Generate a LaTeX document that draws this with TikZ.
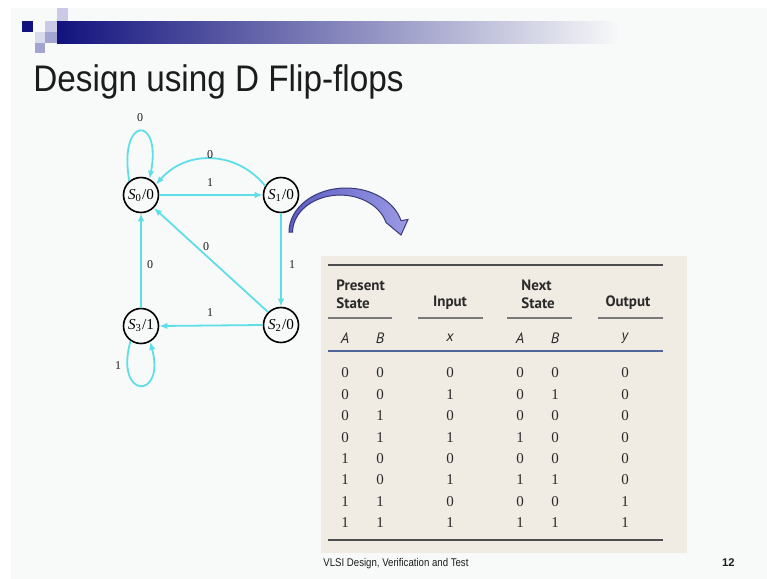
\documentclass[tikz,border=0pt]{standalone}
\usepackage{fontspec}
\setmainfont{Liberation Serif}
\setsansfont{Liberation Sans}
\newfontfamily\tabfont{PT Sans}
\usetikzlibrary{arrows.meta,calc,positioning}
\definecolor{SlideNavy}{HTML}{12127E}
\definecolor{SlideLilac}{HTML}{CACAE6}
\definecolor{SlideMauve}{HTML}{A4A4D0}
\definecolor{SlideBack}{HTML}{F8F9F9}
\definecolor{SlideInk}{HTML}{1C1C1C}
\definecolor{EdgeCyan}{HTML}{5EDFE8}
\definecolor{CurlDark}{HTML}{5C5CC4}
\definecolor{CurlLight}{HTML}{9A9AE4}
\definecolor{CurlEdge}{HTML}{3A3A78}
\definecolor{TabPaper}{HTML}{F1ECE3}
\definecolor{TabRule}{HTML}{4E4E4E}
\definecolor{TabBlue}{HTML}{50659A}
\definecolor{TabInk}{HTML}{2A2A2A}
\newcommand{\SlideTitle}{\fontsize{18.5}{20}\selectfont\sffamily}
\newcommand{\SlideFoot}{\fontsize{5.6}{6.5}\selectfont\sffamily}
\newcommand{\StateText}{\fontsize{7.6}{8.5}\selectfont}
\newcommand{\EdgeText}{\fontsize{6}{7}\selectfont}
\newcommand{\TabHead}{\fontsize{7.5}{9}\selectfont\tabfont\bfseries}
\newcommand{\TabVar}{\fontsize{7.5}{8}\selectfont\tabfont\itshape}
\newcommand{\TabData}{\fontsize{7.5}{8}\selectfont}
\newcommand{\StName}[2]{{\itshape S}\textsubscript{#1}/#2}
\tikzset{
  statenode/.style={
    circle,
    draw=black,
    fill=SlideBack,
    line width=0.8pt,
    minimum size=17.5pt,
    inner sep=0pt,
    font=\StateText
  },
  fsmarrow/.style={
    -{Latex[length=4pt,width=3.2pt]},
    draw=EdgeCyan,
    line width=0.9pt
  },
  edgelabel/.style={
    inner sep=0.5pt,
    text=SlideInk,
    font=\EdgeText
  },
  tabhead/.style={inner sep=0pt, align=left, text=TabInk, font=\TabHead},
  tabvar/.style={inner sep=0pt, text=TabInk, font=\TabVar},
  tabcell/.style={inner sep=0pt, text=TabInk, font=\TabData},
  tabrule/.style={draw=TabRule, line width=1.4pt},
  grouprule/.style={draw=TabRule!75, line width=0.6pt}
}

\begin{document}
\begin{tikzpicture}[x=0.5pt,y=-0.5pt]
\path[use as bounding box] (0,0) rectangle (767,579);
\fill[white] (0,0) rectangle (767,579);
\fill[SlideBack] (11,8) rectangle (767,579);

% header bar
\shade[left color=SlideNavy, middle color=SlideNavy!38!white, right color=SlideBack] (57,21) rectangle (620,43);
\fill[SlideLilac] (57,8) rectangle (68,21);
\fill[SlideLilac] (45,21) rectangle (57,32);
\fill[SlideNavy] (22,21) rectangle (33,32);
\fill[SlideMauve] (45,32) rectangle (57,43);
\fill[SlideLilac!70!white] (35,32) rectangle (45,43);
\fill[SlideMauve] (35,43) rectangle (45,53);

\node[anchor=base west, inner sep=0pt, text=SlideInk, font=\SlideTitle] (title) at (33,91)
  {\scalebox{0.9}[1]{Design using D Flip-flops}};

% state diagram
\node[statenode] (s0) at (141,195) {\StName{0}{0}};
\node[statenode] (s1) at (281,195) {\StName{1}{0}};
\node[statenode] (s2) at (281,325) {\StName{2}{0}};
\node[statenode] (s3) at (141,326) {\StName{3}{1}};

\draw[fsmarrow] (s0.130) .. controls (118,115) and (162,115) .. (s0.62);
\draw[fsmarrow] (s1.150) .. controls (236,150) and (186,150) .. (s0.35);
\draw[fsmarrow] (s0.east) -- (s1.west);
\draw[fsmarrow] (s1.south) -- (s2.north);
\draw[fsmarrow] (s2.west) -- (s3.east);
\draw[fsmarrow] (s2.north west) -- (s0.south east);
\draw[fsmarrow] (s3.north) -- (s0.south);
\draw[fsmarrow] (s3.235) .. controls (114,400) and (166,400) .. (s3.300);

\node[edgelabel] (l00) at (140,118) {0};
\node[edgelabel] (l10) at (210,155) {0};
\node[edgelabel] (l01) at (210,183) {1};
\node[edgelabel] (l12) at (292,265) {1};
\node[edgelabel] (l20) at (206,247) {0};
\node[edgelabel] (l30) at (150,265) {0};
\node[edgelabel] (l23) at (210,313) {1};
\node[edgelabel] (l33) at (118,366) {1};

% curved pointer
\shadedraw[left color=CurlDark, right color=CurlLight, draw=CurlEdge, line width=0.5pt]
  (289,232) arc[start angle=180, end angle=345, x radius=57, y radius=44]
  -- (408,219.5) -- (401,235) -- (386,222.5)
  arc[start angle=345, end angle=180, x radius=47.5, y radius=37] -- cycle;

% table
\fill[TabPaper] (321,256) rectangle (687,553);
\draw[tabrule] (328,265) -- (663,265);
\node[tabhead, anchor=west] (hps) at (336,294) {Present\\State};
\node[tabhead] (hin) at (450,303) {Input};
\node[tabhead, anchor=west] (hns) at (521,294) {Next\\State};
\node[tabhead] (hout) at (628,303) {Output};
\draw[grouprule] (328,318) -- (392,318);
\draw[grouprule] (418,318) -- (483,318);
\draw[grouprule] (507,318) -- (572,318);
\draw[grouprule] (598,318) -- (663,318);
\node[tabvar] (va) at (345,338) {A};
\node[tabvar] (vb) at (380,338) {B};
\node[tabvar] (vx) at (450,338) {x};
\node[tabvar] (vna) at (520,338) {A};
\node[tabvar] (vnb) at (555,338) {B};
\node[tabvar] (vy) at (625,338) {y};
\draw[draw=TabBlue, line width=1.3pt] (328,351) -- (663,351);

\node[tabcell] (r1a) at (345,373) {0}; \node[tabcell] (r1b) at (380,373) {0}; \node[tabcell] (r1x) at (450,373) {0};
\node[tabcell] (r1na) at (520,373) {0}; \node[tabcell] (r1nb) at (555,373) {0}; \node[tabcell] (r1y) at (625,373) {0};
\node[tabcell] (r2a) at (345,394.4) {0}; \node[tabcell] (r2b) at (380,394.4) {0}; \node[tabcell] (r2x) at (450,394.4) {1};
\node[tabcell] (r2na) at (520,394.4) {0}; \node[tabcell] (r2nb) at (555,394.4) {1}; \node[tabcell] (r2y) at (625,394.4) {0};
\node[tabcell] (r3a) at (345,415.8) {0}; \node[tabcell] (r3b) at (380,415.8) {1}; \node[tabcell] (r3x) at (450,415.8) {0};
\node[tabcell] (r3na) at (520,415.8) {0}; \node[tabcell] (r3nb) at (555,415.8) {0}; \node[tabcell] (r3y) at (625,415.8) {0};
\node[tabcell] (r4a) at (345,437.2) {0}; \node[tabcell] (r4b) at (380,437.2) {1}; \node[tabcell] (r4x) at (450,437.2) {1};
\node[tabcell] (r4na) at (520,437.2) {1}; \node[tabcell] (r4nb) at (555,437.2) {0}; \node[tabcell] (r4y) at (625,437.2) {0};
\node[tabcell] (r5a) at (345,458.6) {1}; \node[tabcell] (r5b) at (380,458.6) {0}; \node[tabcell] (r5x) at (450,458.6) {0};
\node[tabcell] (r5na) at (520,458.6) {0}; \node[tabcell] (r5nb) at (555,458.6) {0}; \node[tabcell] (r5y) at (625,458.6) {0};
\node[tabcell] (r6a) at (345,480) {1}; \node[tabcell] (r6b) at (380,480) {0}; \node[tabcell] (r6x) at (450,480) {1};
\node[tabcell] (r6na) at (520,480) {1}; \node[tabcell] (r6nb) at (555,480) {1}; \node[tabcell] (r6y) at (625,480) {0};
\node[tabcell] (r7a) at (345,501.4) {1}; \node[tabcell] (r7b) at (380,501.4) {1}; \node[tabcell] (r7x) at (450,501.4) {0};
\node[tabcell] (r7na) at (520,501.4) {0}; \node[tabcell] (r7nb) at (555,501.4) {0}; \node[tabcell] (r7y) at (625,501.4) {1};
\node[tabcell] (r8a) at (345,522.8) {1}; \node[tabcell] (r8b) at (380,522.8) {1}; \node[tabcell] (r8x) at (450,522.8) {1};
\node[tabcell] (r8na) at (520,522.8) {1}; \node[tabcell] (r8nb) at (555,522.8) {1}; \node[tabcell] (r8y) at (625,522.8) {1};
\draw[tabrule] (328,540) -- (663,540);

% footer
\node[anchor=base west, inner sep=0pt, text=SlideInk, font=\SlideFoot] (foot) at (323,566)
  {\scalebox{0.86}[1]{VLSI Design, Verification and Test}};
\node[anchor=base east, inner sep=0pt, text=SlideInk, font=\SlideFoot\bfseries] (pageno) at (735,566) {12};
\end{tikzpicture}
\end{document}
